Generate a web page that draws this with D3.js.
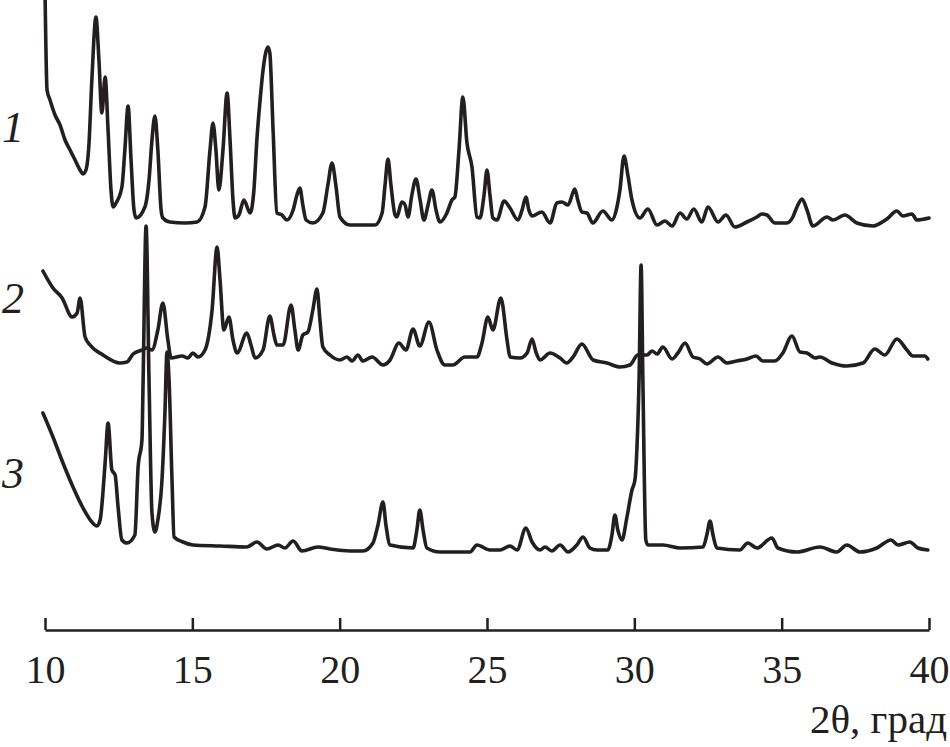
<!DOCTYPE html>
<html>
<head>
<meta charset="utf-8">
<script src="https://cdn.jsdelivr.net/npm/d3@7"></script>
<style>
	body { margin: 0; background: #fff; }
	svg text { font-family: "Liberation Serif", "DejaVu Serif", serif; fill: #231f20; }
</style>
</head>
<body>
<div id="xrd"></div>
<script>
// 2θ (град) and intensity (a.u., with the stacking offset included)
var theta1 = [10.00,10.07,10.17,10.34,10.51,10.68,10.85,11.02,11.19,11.29,11.39,11.49,11.59,11.73,11.83,11.93,12.04,12.14,12.24,12.31,12.41,12.61,12.71,12.82,12.92,13.02,13.09,13.39,13.53,13.63,13.73,13.83,13.94,14.00,14.24,14.75,15.16,15.43,15.60,15.70,15.80,15.90,16.04,16.18,16.28,16.38,16.45,16.58,16.75,16.96,17.09,17.19,17.30,17.40,17.57,17.63,17.74,17.87,18.04,18.21,18.42,18.55,18.65,18.75,18.86,19.09,19.43,19.60,19.74,19.87,20.01,20.35,21.20,21.44,21.54,21.64,21.74,21.88,21.94,22.11,22.22,22.32,22.45,22.59,22.73,22.86,23.00,23.13,23.27,23.40,23.64,23.81,23.91,24.05,24.18,24.32,24.49,24.66,24.76,24.90,25.00,25.10,25.20,25.34,25.58,25.78,26.05,26.19,26.32,26.42,26.53,26.86,27.14,27.37,27.54,27.75,27.98,28.08,28.22,28.39,28.59,28.93,29.24,29.41,29.51,29.65,29.78,29.92,30.19,30.46,30.77,31.04,31.28,31.55,31.78,32.02,32.29,32.50,32.84,33.11,33.41,33.82,34.16,34.33,34.50,34.77,35.18,35.38,35.52,35.69,35.86,36.06,36.54,36.74,37.15,37.55,38.10,38.57,38.91,39.11,39.42,39.59,40.00];
var int1 = [640,540,530,515,505,490,480,470,460,456,460,485,550,613,570,517,553,500,440,423,427,443,480,524,470,420,412,423,450,490,514,480,420,412,408,407,408,423,480,507,480,440,480,537,490,430,412,415,430,417,440,490,530,560,583,577,500,417,415,410,420,435,442,425,410,407,417,445,467,445,413,405,405,417,445,471,445,415,413,428,425,413,435,451,430,410,425,440,420,408,417,430,433,480,533,487,463,413,412,435,460,435,412,410,429,422,410,420,433,420,414,418,407,427,428,425,441,430,418,417,407,419,410,423,440,474,455,430,412,421,405,409,404,417,411,421,408,423,408,415,403,408,413,416,415,407,407,413,423,431,420,404,413,410,415,407,404,411,419,414,416,410,412];

var theta2 = [9.93,10.27,10.58,10.92,11.09,11.19,11.36,11.53,11.97,12.54,12.78,12.99,13.29,13.46,13.63,13.83,14.00,14.17,14.28,14.65,14.85,15.02,15.19,15.43,15.67,15.84,15.94,16.07,16.24,16.38,16.52,16.85,16.99,17.13,17.40,17.63,17.77,17.87,18.08,18.35,18.48,18.59,18.75,18.92,19.09,19.23,19.33,19.43,19.67,20.01,20.25,20.42,20.62,20.79,21.10,21.47,21.71,22.01,22.25,22.49,22.72,23.03,23.30,23.57,23.84,24.25,24.66,24.83,25.03,25.20,25.47,25.68,25.78,26.12,26.36,26.53,26.66,26.80,27.14,27.48,27.71,27.92,28.22,28.60,29.07,29.51,29.85,30.12,30.43,30.60,30.77,30.97,31.28,31.48,31.72,31.99,32.23,32.46,32.84,33.14,33.48,33.82,34.13,34.36,34.77,35.04,35.35,35.62,35.86,36.13,36.30,36.71,37.21,37.76,38.16,38.50,38.91,39.25,39.45,39.86,39.96];
var int2 = [359,342,332,313,317,332,293,285,275,267,268,276,280,282,280,300,327,290,272,274,272,277,273,280,320,383,350,300,313,290,277,297,285,272,280,314,295,285,285,325,300,280,295,298,320,341,310,283,275,270,273,269,275,269,273,265,270,287,280,301,284,308,280,265,265,273,273,287,313,300,332,290,273,272,277,291,278,270,277,272,267,273,286,270,267,263,265,275,275,279,276,283,271,277,287,273,271,266,273,267,269,271,274,269,269,277,294,278,277,272,273,267,264,267,281,275,291,280,274,274,271];

var theta3 = [9.93,10.27,10.61,10.95,11.29,11.59,11.76,11.87,12.04,12.14,12.27,12.38,12.48,12.61,12.78,13.05,13.16,13.29,13.33,13.43,13.53,13.63,13.73,13.83,13.97,14.07,14.14,14.21,14.31,14.38,14.68,15.02,15.94,16.85,17.19,17.53,17.91,18.14,18.42,18.72,19.26,19.67,20.35,20.79,21.13,21.30,21.47,21.57,21.71,22.49,22.62,22.72,22.83,22.96,23.40,24.42,24.66,25.10,25.44,25.78,26.02,26.32,26.53,26.80,26.97,27.20,27.48,27.75,28.05,28.26,28.49,28.73,29.10,29.24,29.34,29.44,29.58,29.75,29.92,30.02,30.09,30.16,30.23,30.29,30.39,30.46,30.97,31.55,32.33,32.46,32.57,32.67,32.80,33.58,33.85,34.16,34.67,34.87,35.52,36.30,36.87,37.21,37.66,38.23,38.71,38.95,39.35,39.62,39.96];
var int3 = [217,193,167,143,122,108,104,110,167,207,160,155,123,90,87,95,163,190,250,404,250,117,98,110,150,217,278,250,150,93,88,85,84,83,88,81,85,82,89,79,83,81,79,79,87,105,128,105,85,82,100,120,100,82,78,78,85,80,80,84,80,102,88,80,83,79,85,78,85,93,82,80,80,95,115,100,90,113,140,150,183,250,365,250,90,85,85,82,83,95,109,95,82,80,87,82,92,82,78,83,78,85,78,82,90,85,88,82,80];

var corbes = ['1', '2', '3'];
var rètols = [10, 15, 20, 25, 30, 35, 40];
var títolX = '2θ, град';

var Amplada = 950, Alçada = 747;
var negre = '#231f20';

var plànol = d3.select('#xrd')
	.append('svg')
		.attr('width', Amplada)
		.attr('height', Alçada);

var x = d3.scaleLinear()
	.domain([10, 40])
	.range([45, 929]);
var y = d3.scaleLinear()
	.domain([0, 630])
	.range([630, 0]);

var sèries = [
	{nom: corbes[0], th: theta1, I: int1},
	{nom: corbes[1], th: theta2, I: int2},
	{nom: corbes[2], th: theta3, I: int3}
];

var línia = d3.line()
	.x(d => x(d[0]))
	.y(d => y(d[1]))
	.curve(d3.curveMonotoneX);

plànol.append('g')
	.selectAll('path')
	.data(sèries)
	.enter()
	.append('path')
		.attr('d', s => línia(s.th.map((t, i) => [t, s.I[i]])))
		.attr('fill', 'none')
		.attr('stroke', negre)
		.attr('stroke-width', 3.6)
		.attr('stroke-linejoin', 'round')
		.attr('stroke-linecap', 'round');

// eix
var eix = plànol.append('g')
	.attr('transform', 'translate(0,630)')
	.call(d3.axisBottom(x)
		.tickValues(rètols)
		.tickSizeInner(-12)
		.tickSizeOuter(0)
		.tickPadding(25)
		.tickFormat(d3.format('d')));
eix.select('.domain').attr('stroke', negre).attr('stroke-width', 2.5);
eix.selectAll('.tick line').attr('stroke', negre).attr('stroke-width', 2.5);
eix.selectAll('.tick text')
	.attr('font-size', 40)
	.attr('fill', negre)
	.attr('font-family', '"Liberation Serif", serif');

plànol.append('text')
	.attr('x', 947)
	.attr('y', 733)
	.attr('text-anchor', 'end')
	.attr('font-size', 41)
	.text(títolX);

// números de corba
var posRètol = [142, 313, 488];
plànol.append('g')
	.selectAll('text')
	.data(corbes)
	.enter()
	.append('text')
		.attr('x', 13)
		.attr('y', (d, i) => posRètol[i])
		.attr('text-anchor', 'middle')
		.attr('font-style', 'italic')
		.attr('font-size', 44)
		.text(d => d);
</script>
</body>
</html>
